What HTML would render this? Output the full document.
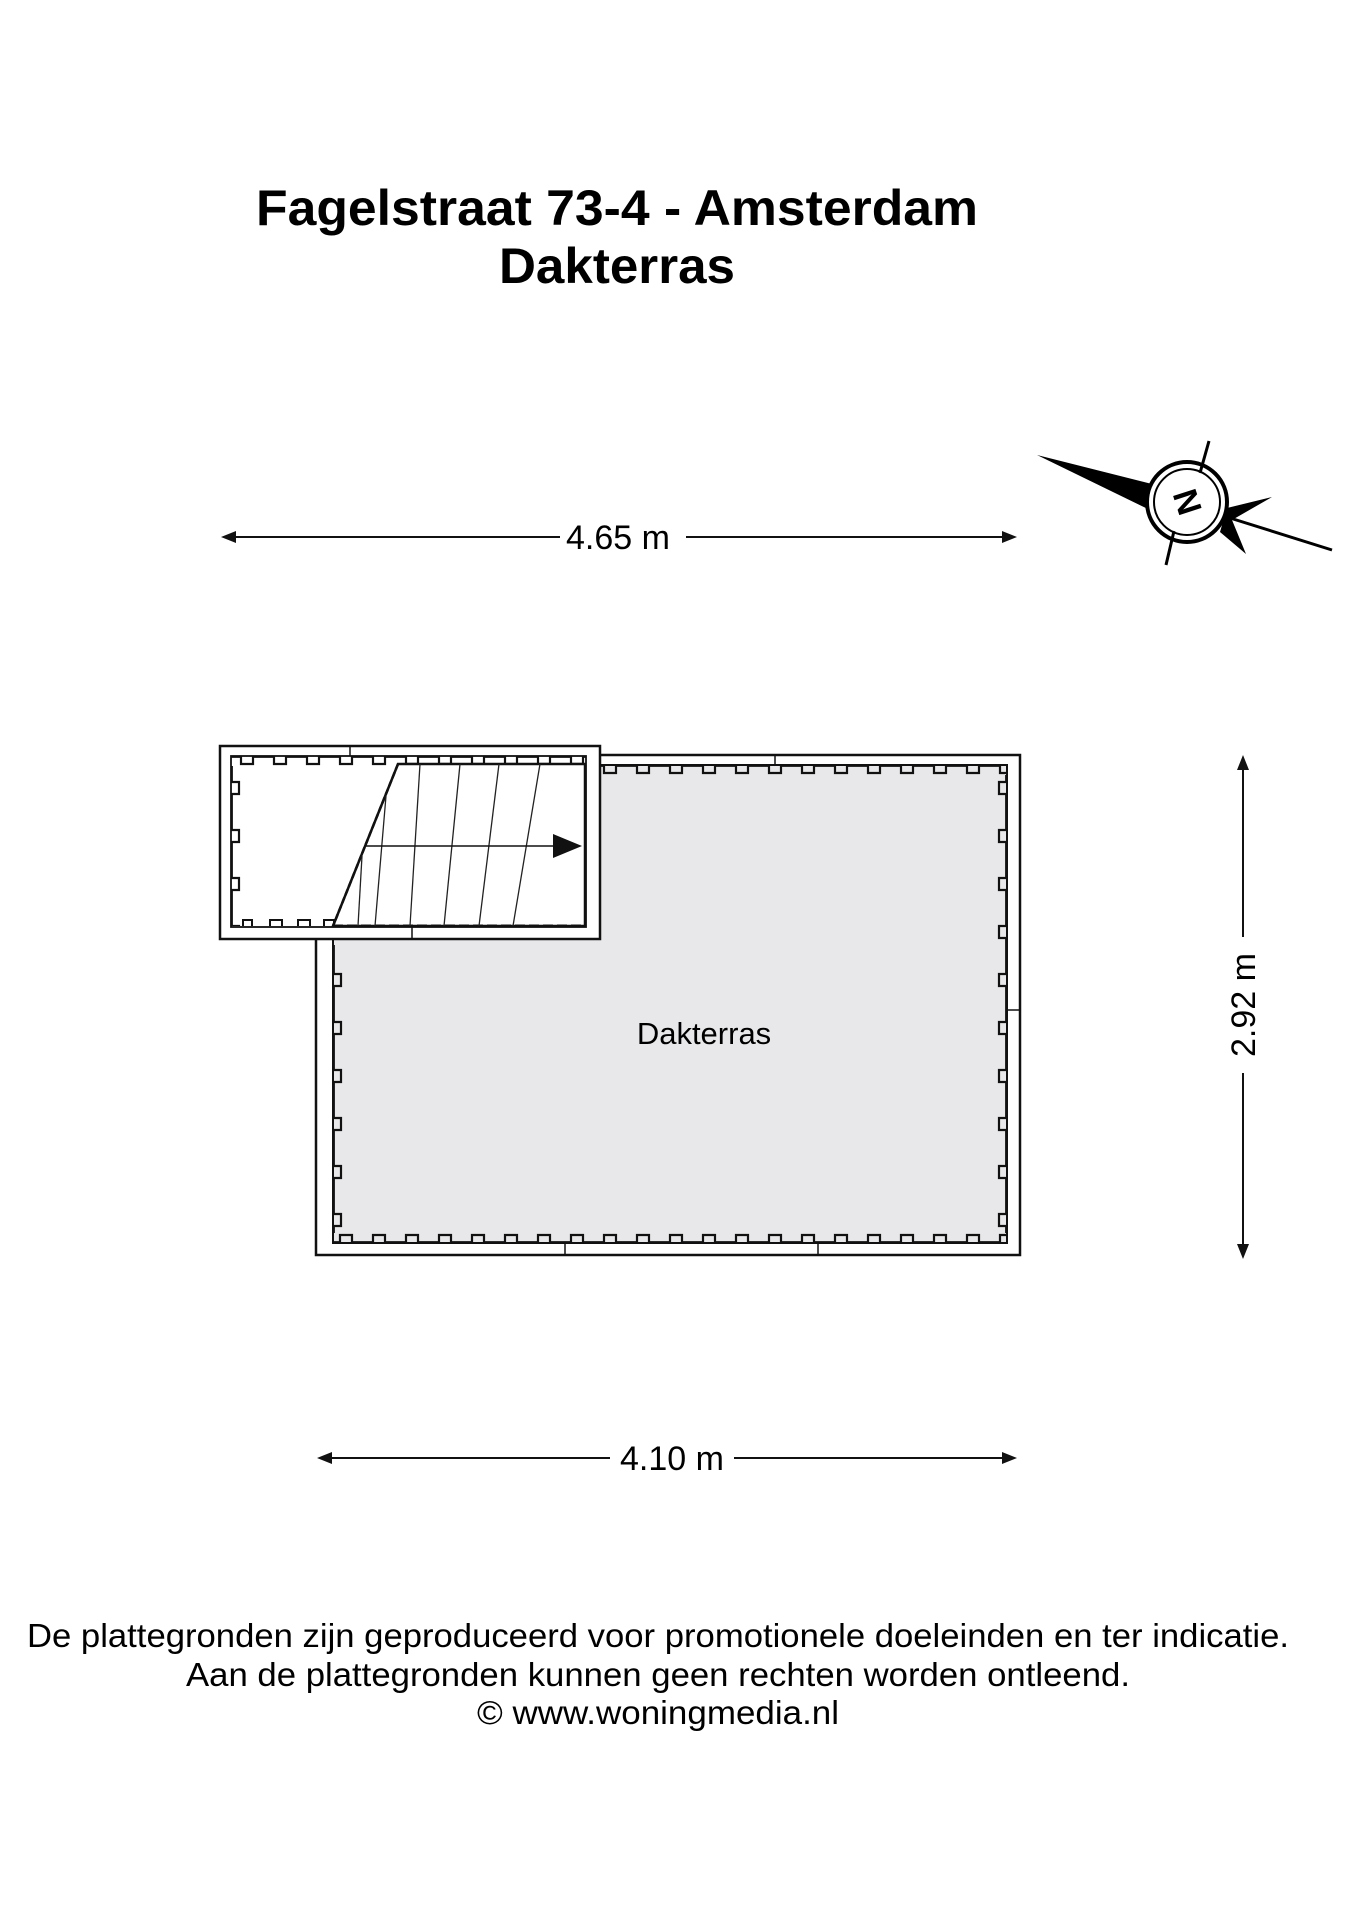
<!DOCTYPE html>
<html><head><meta charset="utf-8"><style>
html,body{margin:0;padding:0;background:#fff;}
svg{display:block;}
text{font-family:"Liberation Sans",sans-serif;fill:#000;}
</style></head><body>
<svg width="1358" height="1920" viewBox="0 0 1358 1920" xmlns="http://www.w3.org/2000/svg">
<defs>
<pattern id="tTop" patternUnits="userSpaceOnUse" x="0" y="765" width="33" height="10">
<path d="M0,0.8 H10 V8 H22 V0.8 H33" fill="none" stroke="#111" stroke-width="2.2"/>
</pattern>
<pattern id="tBot" patternUnits="userSpaceOnUse" x="0" y="1233" width="33" height="10">
<path d="M0,9.2 H10 V2 H22 V9.2 H33" fill="none" stroke="#111" stroke-width="2.2"/>
</pattern>
<pattern id="tLeft" patternUnits="userSpaceOnUse" x="333" y="0" width="10" height="48">
<path d="M0.8,0 V14 H8 V26 H0.8 V48" fill="none" stroke="#111" stroke-width="2.2"/>
</pattern>
<pattern id="tLeft2" patternUnits="userSpaceOnUse" x="231" y="0" width="10" height="48">
<path d="M0.8,0 V14 H8 V26 H0.8 V48" fill="none" stroke="#111" stroke-width="2.2"/>
</pattern>
<pattern id="tRight" patternUnits="userSpaceOnUse" x="997" y="0" width="10" height="48">
<path d="M9.2,0 V14 H2 V26 H9.2 V48" fill="none" stroke="#111" stroke-width="2.2"/>
</pattern>
<pattern id="tTop2" patternUnits="userSpaceOnUse" x="0" y="756" width="33" height="10">
<path d="M0,0.8 H10 V8 H22 V0.8 H33" fill="none" stroke="#111" stroke-width="2.2"/>
</pattern>
</defs>

<text x="617" y="225" font-size="50" font-weight="bold" text-anchor="middle" textLength="722" lengthAdjust="spacingAndGlyphs">Fagelstraat 73-4 - Amsterdam</text>
<text x="617" y="283" font-size="50" font-weight="bold" text-anchor="middle" textLength="236" lengthAdjust="spacingAndGlyphs">Dakterras</text>

<g stroke="#111" stroke-width="2">
<line x1="232" y1="537" x2="560" y2="537"/>
<line x1="686" y1="537" x2="1005" y2="537"/>
</g>
<path d="M221,537 L236,531 L236,543 Z" fill="#111"/>
<path d="M1017,537 L1002,531 L1002,543 Z" fill="#111"/>
<text x="618" y="549" font-size="34" text-anchor="middle">4.65 m</text>

<g>
<path d="M1037,455 L1160,486 L1150,510 Z" fill="#000"/>
<path d="M1227,508 L1272,497 L1232,520 L1246,554 L1220,532 Z" fill="#000"/>
<line x1="1230" y1="518" x2="1332" y2="550" stroke="#000" stroke-width="3"/>
<circle cx="1187" cy="502" r="40" fill="#fff" stroke="#000" stroke-width="4"/>
<circle cx="1187" cy="502" r="33" fill="none" stroke="#000" stroke-width="2"/>
<line x1="1209" y1="441" x2="1200" y2="473" stroke="#000" stroke-width="3"/>
<line x1="1174" y1="531" x2="1166" y2="565" stroke="#000" stroke-width="3"/>
<text x="1187" y="514" font-size="34" font-weight="bold" text-anchor="middle" transform="rotate(-108 1187 502)">N</text>
</g>

<rect x="333" y="765" width="674" height="478" fill="#e8e8ea"/>
<rect x="316" y="755" width="704" height="500" fill="none" stroke="#111" stroke-width="2.5"/>
<rect x="333" y="765" width="674" height="478" fill="none" stroke="#111" stroke-width="2"/>
<line x1="775" y1="755" x2="775" y2="765" stroke="#111" stroke-width="1.5"/>
<line x1="565" y1="1243" x2="565" y2="1255" stroke="#111" stroke-width="1.5"/>
<line x1="818" y1="1243" x2="818" y2="1255" stroke="#111" stroke-width="1.5"/>
<line x1="1007" y1="1010" x2="1020" y2="1010" stroke="#111" stroke-width="1.5"/>
<rect x="600" y="765" width="407" height="10" fill="url(#tTop)"/>
<rect x="333" y="1233" width="674" height="10" fill="url(#tBot)"/>
<rect x="333" y="945" width="10" height="288" fill="url(#tLeft)"/>
<rect x="997" y="775" width="10" height="458" fill="url(#tRight)"/>

<rect x="220" y="746" width="380" height="193" fill="#fff" stroke="#111" stroke-width="2.5"/>
<rect x="231" y="756" width="355" height="171" fill="#fff" stroke="#111" stroke-width="1.8"/>
<line x1="350" y1="746" x2="350" y2="756" stroke="#111" stroke-width="1.5"/>
<line x1="412" y1="927" x2="412" y2="939" stroke="#111" stroke-width="1.5"/>
<rect x="231" y="756" width="355" height="10" fill="url(#tTop2)"/>
<rect x="231" y="766" width="10" height="160" fill="url(#tLeft2)"/>
<path d="M243,926 V920 H252 V926 M270,926 V920 H282 V926 M298,926 V920 H310 V926 M324,926 V920 H334 V926" fill="none" stroke="#111" stroke-width="2"/>
<path d="M398,764 L585,764 L585,926 L333,926 Z" fill="#fff" stroke="#111" stroke-width="2.5"/>
<path d="M398,764 L333,926" stroke="#111" stroke-width="2.5" stroke-dasharray="6 3"/>
<line x1="333" y1="926" x2="585" y2="926" stroke="#111" stroke-width="3" stroke-dasharray="10 4"/>
<g stroke="#222" stroke-width="1.3">
<line x1="386" y1="796" x2="375" y2="926"/>
<line x1="420" y1="764" x2="410" y2="926"/>
<line x1="460" y1="764" x2="444" y2="926"/>
<line x1="499" y1="764" x2="479" y2="926"/>
<line x1="540" y1="764" x2="513" y2="926"/>
<line x1="362" y1="856" x2="358" y2="926"/>
</g>
<line x1="366" y1="846" x2="560" y2="846" stroke="#111" stroke-width="1.5"/>
<path d="M582,846 L553,834 L553,858 Z" fill="#111"/>

<text x="704" y="1044" font-size="31" text-anchor="middle">Dakterras</text>

<g stroke="#111" stroke-width="2">
<line x1="1252" y1="768" x2="1252" y2="937" transform="translate(-9 0)"/>
<line x1="1252" y1="1073" x2="1252" y2="1246" transform="translate(-9 0)"/>
</g>
<path d="M1243,755 L1237,770 L1249,770 Z" fill="#111"/>
<path d="M1243,1259 L1237,1244 L1249,1244 Z" fill="#111"/>
<text x="1243" y="1005" font-size="34" text-anchor="middle" transform="rotate(-90 1243 1005) translate(0 12)">2.92 m</text>

<g stroke="#111" stroke-width="2">
<line x1="328" y1="1458" x2="610" y2="1458"/>
<line x1="734" y1="1458" x2="1005" y2="1458"/>
</g>
<path d="M317,1458 L332,1452 L332,1464 Z" fill="#111"/>
<path d="M1017,1458 L1002,1452 L1002,1464 Z" fill="#111"/>
<text x="672" y="1470" font-size="34" text-anchor="middle">4.10 m</text>

<text x="658" y="1647" font-size="33" text-anchor="middle" textLength="1262" lengthAdjust="spacingAndGlyphs">De plattegronden zijn geproduceerd voor promotionele doeleinden en ter indicatie.</text>
<text x="658" y="1686" font-size="33" text-anchor="middle" textLength="944" lengthAdjust="spacingAndGlyphs">Aan de plattegronden kunnen geen rechten worden ontleend.</text>
<text x="658" y="1724" font-size="33" text-anchor="middle" textLength="362" lengthAdjust="spacingAndGlyphs">© www.woningmedia.nl</text>
</svg>
</body></html>
